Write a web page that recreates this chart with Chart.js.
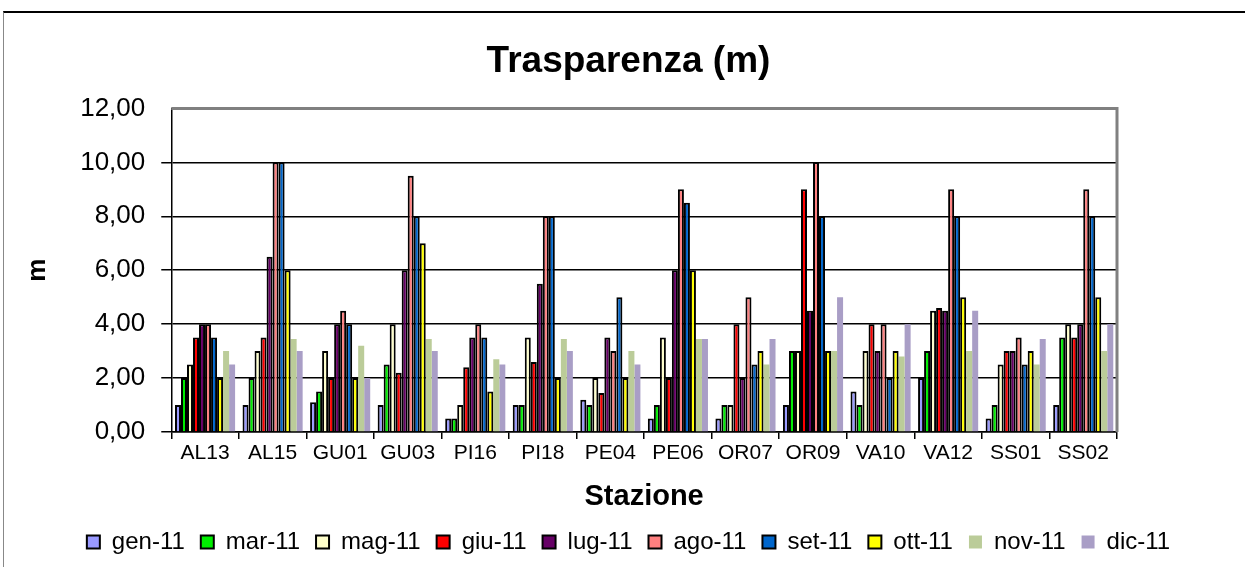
<!DOCTYPE html>
<html>
<head>
<meta charset="utf-8">
<script src="https://cdn.jsdelivr.net/npm/chart.js@4/dist/chart.umd.min.js"></script>
<style>
  html, body { margin: 0; padding: 0; background: #fff; }
  #frame { position: absolute; left: 3px; top: 11px; width: 1242px; height: 556px;
           border-top: 2px solid #000; border-left: 1px solid #888; }
  #wrap { position: absolute; left: 0; top: 0; width: 1245px; height: 567px; }
</style>
</head>
<body>
<div id="frame"></div>
<div id="wrap"><canvas id="c" width="1245" height="567"></canvas></div>
<script>
const stazioni = ["AL13", "AL15", "GU01", "GU03", "PI16", "PI18", "PE04", "PE06", "OR07", "OR09", "VA10", "VA12", "SS01", "SS02"];
const mesi = ["gen-11", "mar-11", "mag-11", "giu-11", "lug-11", "ago-11", "set-11", "ott-11", "nov-11", "dic-11"];

const gen = [1.0, 1.0, 1.1, 1.0, 0.5, 1.0, 1.2, 0.5, 0.5, 1.0, 1.5, 2.0, 0.5, 1.0];
const mar = [2.0, 2.0, 1.5, 2.5, 0.5, 1.0, 1.0, 1.0, 1.0, 3.0, 1.0, 3.0, 1.0, 3.5];
const mag = [2.5, 3.0, 3.0, 4.0, 1.0, 3.5, 2.0, 3.5, 1.0, 3.0, 3.0, 4.5, 2.5, 4.0];
const giu = [3.5, 3.5, 2.0, 2.2, 2.4, 2.6, 1.45, 2.0, 4.0, 9.0, 4.0, 4.6, 3.0, 3.5];
const lug = [4.0, 6.5, 4.0, 6.0, 3.5, 5.5, 3.5, 6.0, 2.0, 4.5, 3.0, 4.5, 3.0, 4.0];
const ago = [4.0, 10.0, 4.5, 9.5, 4.0, 8.0, 3.0, 9.0, 5.0, 10.0, 4.0, 9.0, 3.5, 9.0];
const set = [3.5, 10.0, 4.0, 8.0, 3.5, 8.0, 5.0, 8.5, 2.5, 8.0, 2.0, 8.0, 2.5, 8.0];
const ott = [2.0, 6.0, 2.0, 7.0, 1.5, 2.0, 2.0, 6.0, 3.0, 3.0, 3.0, 5.0, 3.0, 5.0];
const nov = [3.0, 3.45, 3.2, 3.45, 2.7, 3.45, 3.0, 3.45, 2.5, 3.0, 2.8, 3.0, 2.5, 3.0];
const dic = [2.5, 3.0, 2.0, 3.0, 2.5, 3.0, 2.5, 3.45, 3.45, 5.0, 4.0, 4.5, 3.45, 4.0];

const serie = [gen, mar, mag, giu, lug, ago, set, ott, nov, dic];
const colori = ["#9999ff", "#00ee00", "#ffffcc", "#ff0000", "#660066", "#ff8080", "#0066cc", "#ffff00", "#bbcc99", "#a99ec6"];
const bordi = [2, 2, 2, 2, 2, 2, 2, 2, 0, 0];

const yTicks = [0, 2, 4, 6, 8, 10, 12];

// gray frame on top and right of the plot area, like the Excel original
const plotBorder = {
  id: "plotBorder",
  afterDraw(chart) {
    const { ctx, chartArea: a } = chart;
    ctx.save();
    ctx.strokeStyle = "#808080";
    ctx.lineWidth = 3;
    ctx.beginPath();
    ctx.moveTo(a.left, a.top);
    ctx.lineTo(a.right, a.top);
    ctx.lineTo(a.right, a.bottom);
    ctx.stroke();
    ctx.restore();
  },
};

new Chart(document.getElementById("c"), {
  type: "bar",
  data: {
    labels: stazioni,
    datasets: serie.map((d, i) => ({
      label: mesi[i],
      data: d,
      backgroundColor: colori[i],
      borderColor: "#000",
      borderWidth: bordi[i],
      borderSkipped: "bottom",
      categoryPercentage: 0.89,
      barPercentage: 1.0,
    })),
  },
  options: {
    responsive: false,
    animation: false,
    layout: { padding: { left: 22, right: 10, top: 0, bottom: 3 } },
    plugins: {
      title: {
        display: true,
        text: "Trasparenza (m)",
        color: "#000",
        font: { family: "Liberation Sans", size: 37, weight: "bold" },
        padding: { top: 40, bottom: 24 },
      },
      legend: {
        position: "bottom",
        labels: {
          color: "#000",
          font: { family: "Liberation Sans", size: 24 },
          boxWidth: 13,
          boxHeight: 13,
          padding: 16,
        },
      },
      tooltip: { enabled: false },
    },
    scales: {
      x: {
        grid: { display: true, drawOnChartArea: false, color: "#000", lineWidth: 1.5, tickLength: 7 },
        border: { color: "#000", width: 1.5 },
        ticks: { color: "#000", font: { family: "Liberation Sans", size: 21 }, padding: 2, autoSkip: false, maxRotation: 0 },
        title: {
          display: true,
          text: "Stazione",
          color: "#000",
          font: { family: "Liberation Sans", size: 29, weight: "bold" },
          padding: { top: 11, bottom: 0 },
        },
      },
      y: {
        min: 0,
        max: 12,
        afterBuildTicks(axis) { axis.ticks = yTicks.map((v) => ({ value: v })); },
        grid: {
          color: (c) => (c.tick && c.tick.value === 12 ? "rgba(0,0,0,0)" : "#000"),
          lineWidth: 1.5,
          tickLength: 10,
        },
        border: { color: "#000", width: 1.5 },
        ticks: {
          color: "#000",
          font: { family: "Liberation Sans", size: 26 },
          padding: 16,
          callback: (v) => v.toFixed(2).replace(".", ","),
        },
        title: {
          display: true,
          text: "m",
          color: "#000",
          font: { family: "Liberation Sans", size: 26, weight: "bold" },
          padding: { top: 0, bottom: 11 },
        },
      },
      // empty right-hand spacer so the plot ends where the original does
      spacer: {
        position: "right",
        display: true,
        grid: { display: false },
        border: { display: false },
        ticks: { display: false },
        afterFit(axis) { axis.width = 118; },
      },
    },
  },
  plugins: [plotBorder],
});
</script>
</body>
</html>
